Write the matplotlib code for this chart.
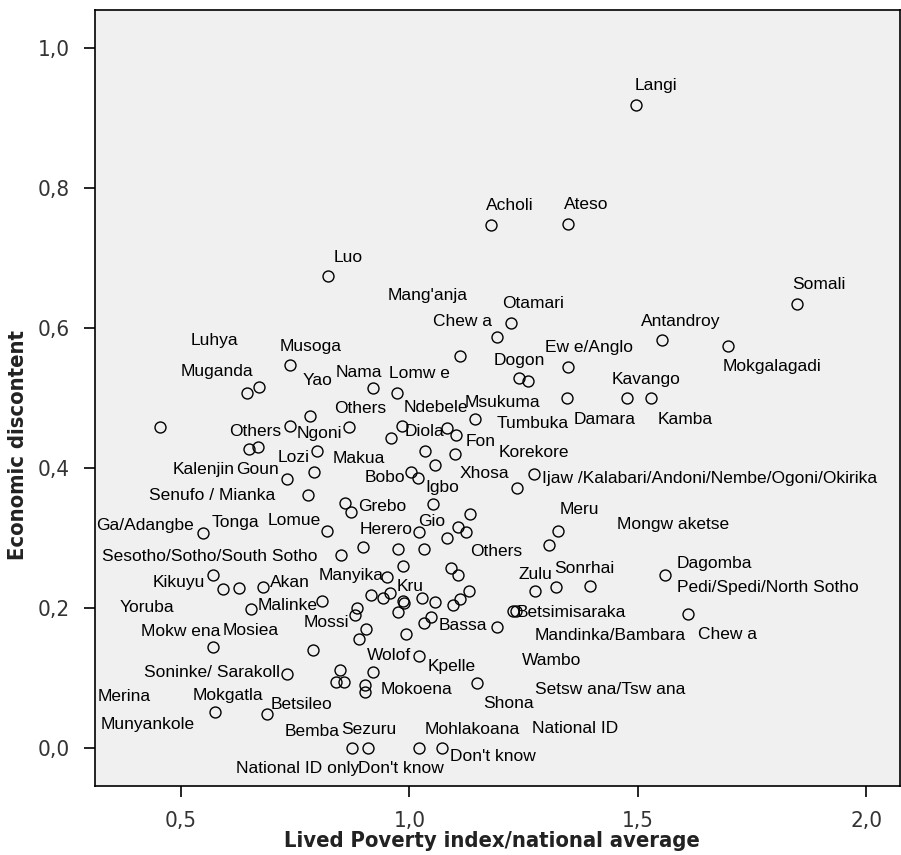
import matplotlib
matplotlib.use('Agg')
import matplotlib.pyplot as plt
from matplotlib import font_manager

# Lived Poverty index / national average and economic discontent, one point per group
lpi = [1.496, 1.178, 1.347, 0.821, 1.848, 1.223, 1.553, 1.698, 1.191, 1.111,
       1.347, 1.239, 1.260, 0.739, 0.645, 0.671, 0.920, 0.973, 1.344, 1.476,
       1.529, 0.783, 1.143, 0.455, 0.739, 0.867, 0.983, 1.083, 1.103, 0.959,
       0.649, 0.669, 0.798, 1.035, 1.100, 1.055, 0.731, 0.792, 1.003, 1.019,
       1.272, 1.235, 0.777, 0.859, 0.872, 1.052, 1.132, 0.548, 0.819, 1.020,
       1.107, 1.124, 1.082, 1.325, 1.306, 0.899, 0.976, 1.031, 0.851, 0.986,
       1.091, 1.107, 0.952, 0.569, 0.593, 0.628, 0.680, 0.653, 0.808, 0.915,
       0.942, 0.958, 0.986, 0.988, 0.975, 1.028, 1.055, 1.095, 1.110, 1.130,
       1.274, 1.320, 1.396, 1.560, 1.609, 1.226, 1.234, 1.191, 0.886, 0.881,
       0.905, 0.890, 1.031, 1.047, 0.992, 0.788, 0.569, 0.733, 0.848, 0.839,
       0.857, 0.921, 0.903, 0.903, 1.022, 1.147, 0.575, 0.689, 0.875, 0.909,
       1.020, 1.071]
discontent = [0.919, 0.748, 0.749, 0.674, 0.635, 0.607, 0.583, 0.574, 0.587, 0.560,
              0.544, 0.529, 0.525, 0.547, 0.508, 0.516, 0.514, 0.507, 0.500, 0.500,
              0.500, 0.475, 0.470, 0.459, 0.461, 0.459, 0.460, 0.457, 0.448, 0.443,
              0.428, 0.430, 0.425, 0.424, 0.421, 0.404, 0.385, 0.394, 0.394, 0.386,
              0.392, 0.372, 0.362, 0.351, 0.337, 0.349, 0.334, 0.307, 0.311, 0.309,
              0.316, 0.309, 0.301, 0.310, 0.290, 0.287, 0.285, 0.284, 0.276, 0.261,
              0.258, 0.247, 0.244, 0.248, 0.227, 0.229, 0.231, 0.199, 0.210, 0.219,
              0.214, 0.222, 0.210, 0.207, 0.194, 0.214, 0.209, 0.205, 0.213, 0.224,
              0.224, 0.231, 0.232, 0.247, 0.192, 0.196, 0.196, 0.173, 0.201, 0.191,
              0.170, 0.156, 0.179, 0.188, 0.163, 0.141, 0.144, 0.106, 0.112, 0.094,
              0.094, 0.109, 0.090, 0.081, 0.132, 0.093, 0.052, 0.049, 0.000, 0.000,
              0.001, 0.001]

# group names, placed where the labelling left them
names = ["Langi", "Acholi", "Ateso", "Luo", "Somali", "Mang'anja", "Otamari",
         "Antandroy", "Chew a", "Luhya", "Ew e/Anglo", "Musoga", "Dogon",
         "Mokgalagadi", "Muganda", "Nama", "Lomw e", "Kavango", "Yao", "Msukuma",
         "Ndebele", "Others", "Damara", "Kamba", "Tumbuka", "Others", "Diola",
         "Ngoni", "Fon", "Korekore", "Lozi", "Makua", "Kalenjin", "Goun", "Xhosa",
         "Ijaw /Kalabari/Andoni/Nembe/Ogoni/Okirika", "Bobo", "Igbo",
         "Senufo / Mianka", "Grebo", "Meru", "Lomue", "Gio", "Tonga",
         "Mongw aketse", "Ga/Adangbe", "Herero", "Others",
         "Sesotho/Sotho/South Sotho", "Dagomba", "Sonrhai", "Zulu", "Manyika",
         "Kikuyu", "Akan", "Kru", "Pedi/Spedi/North Sotho", "Malinke", "Yoruba",
         "Betsimisaraka", "Mossi", "Bassa", "Mosiea", "Mokw ena", "Chew a",
         "Mandinka/Bambara", "Wolof", "Wambo", "Kpelle", "Soninke/ Sarakoll",
         "Mokoena", "Setsw ana/Tsw ana", "Mokgatla", "Merina", "Shona", "Betsileo",
         "Munyankole", "National ID", "Mohlakoana", "Sezuru", "Bemba",
         "Don't know", "National ID only", "Don't know"]
name_x = [1.494, 1.1685, 1.339, 0.8335, 1.837, 0.952, 1.202, 1.507, 1.052, 0.521,
          1.297, 0.715, 1.184, 1.686, 0.500, 0.839, 0.955, 1.443, 0.766, 1.120,
          0.987, 0.835, 1.359, 1.544, 1.190, 0.606, 0.9905, 0.753, 1.124, 1.196,
          0.712, 0.831, 0.481, 0.620, 1.109, 1.290, 0.901, 1.034, 0.429, 0.887,
          1.328, 0.689, 1.020, 0.568, 1.455, 0.314, 0.890, 1.133, 0.326, 1.585,
          1.317, 1.238, 0.8015, 0.438, 0.695, 0.972, 1.585, 0.668, 0.365, 1.235,
          0.769, 1.063, 0.591, 0.412, 1.631, 1.274, 0.907, 1.247, 1.039, 0.420,
          0.936, 1.274, 0.525, 0.317, 1.161, 0.6955, 0.324, 1.268, 1.034, 0.850,
          0.726, 1.089, 0.620, 0.887]
name_y = [0.9404, 0.769, 0.770, 0.6943, 0.6561, 0.6404, 0.6286, 0.6037, 0.6033, 0.5761,
          0.5666, 0.5676, 0.5476, 0.5386, 0.5323, 0.5309, 0.5286, 0.5204, 0.519, 0.488,
          0.4809, 0.4786, 0.4637, 0.4633, 0.458, 0.4466, 0.4466, 0.4429, 0.4319, 0.4157,
          0.4086, 0.4079, 0.3919, 0.3919, 0.3866, 0.3794, 0.380, 0.3666, 0.3547, 0.339,
          0.3343, 0.319, 0.3176, 0.3166, 0.3129, 0.3119, 0.3057, 0.274, 0.268, 0.2571,
          0.250, 0.2423, 0.2411, 0.230, 0.230, 0.2247, 0.2229, 0.1976, 0.1951, 0.188,
          0.1729, 0.169, 0.1619, 0.1604, 0.1561, 0.1547, 0.1261, 0.119, 0.1109, 0.1023,
          0.0776, 0.0776, 0.069, 0.068, 0.058, 0.0561, 0.0276, 0.0214, 0.020, 0.0197,
          0.0176, -0.0181, -0.035, -0.035]

xticks = [0.5, 1.0, 1.5, 2.0]
xtick_labels = ['0,5', '1,0', '1,5', '2,0']
yticks = [0.0, 0.2, 0.4, 0.6, 0.8, 1.0]
ytick_labels = ['0,0', '0,2', '0,4', '0,6', '0,8', '1,0']

# pick a narrow face for the axis text if one is installed
installed = font_manager.fontManager.ttflist
installed_names = {f.name for f in installed}
if 'Liberation Sans Narrow' in installed_names:
    axis_font = dict(family='Liberation Sans Narrow')
elif any(f.name == 'DejaVu Sans' and 'condensed' in str(f.stretch) for f in installed):
    axis_font = dict(family='DejaVu Sans', stretch='condensed')
elif 'Roboto Condensed' in installed_names:
    axis_font = dict(family='Roboto Condensed')
else:
    axis_font = dict(family='Liberation Sans')

fig = plt.figure(figsize=(9.01, 8.55), dpi=100)
ax = fig.add_axes([94.5 / 901, 69 / 855, (900 - 94.5) / 901, (786 - 10.5) / 855])
ax.set_facecolor('#f0f0f0')

ax.plot(lpi, discontent, 'o', ms=7.9, mfc='none', mec='black', mew=1.0)

for name, x, y in zip(names, name_x, name_y):
    ax.text(x, y, name, fontsize=12.5, family='Liberation Sans',
            ha='left', va='baseline', color='black')

ax.set_xlim(0.3106, 2.074)
ax.set_ylim(-0.0539, 1.054)
ax.set_xticks(xticks)
ax.set_xticklabels(xtick_labels)
ax.set_yticks(yticks)
ax.set_yticklabels(ytick_labels)
for s in ax.spines.values():
    s.set_linewidth(1.2)
ax.tick_params(direction='out', length=8, width=1.2, pad=10)

xlab = fig.text(492 / 901, 1 - 847 / 855, 'Lived Poverty index/national average',
                ha='center', va='baseline', fontsize=16, fontweight='bold',
                color='#222222', **axis_font)
ylab = fig.text(18 / 901, 1 - 445 / 855, 'Economic discontent', rotation=90,
                ha='center', va='center', fontsize=16, fontweight='bold',
                color='#222222', **axis_font)
for lab in ax.get_xticklabels() + ax.get_yticklabels():
    lab.set_fontsize(16)
    lab.set_color('#333333')
    lab.set_fontfamily(axis_font['family'])
    if 'stretch' in axis_font:
        lab.set_fontstretch(axis_font['stretch'])

# size the axis titles and tick numbers by width, whatever face was found
fig.canvas.draw()
r = fig.canvas.get_renderer()
w = xlab.get_window_extent(r).width
title_size = 16 * 415 / w
xlab.set_fontsize(title_size)
ylab.set_fontsize(title_size)
w = ax.get_xticklabels()[0].get_window_extent(r).width
tick_size = 16 * 32 / w
for lab in ax.get_xticklabels() + ax.get_yticklabels():
    lab.set_fontsize(tick_size)

fig.savefig('out.png', dpi=100)
